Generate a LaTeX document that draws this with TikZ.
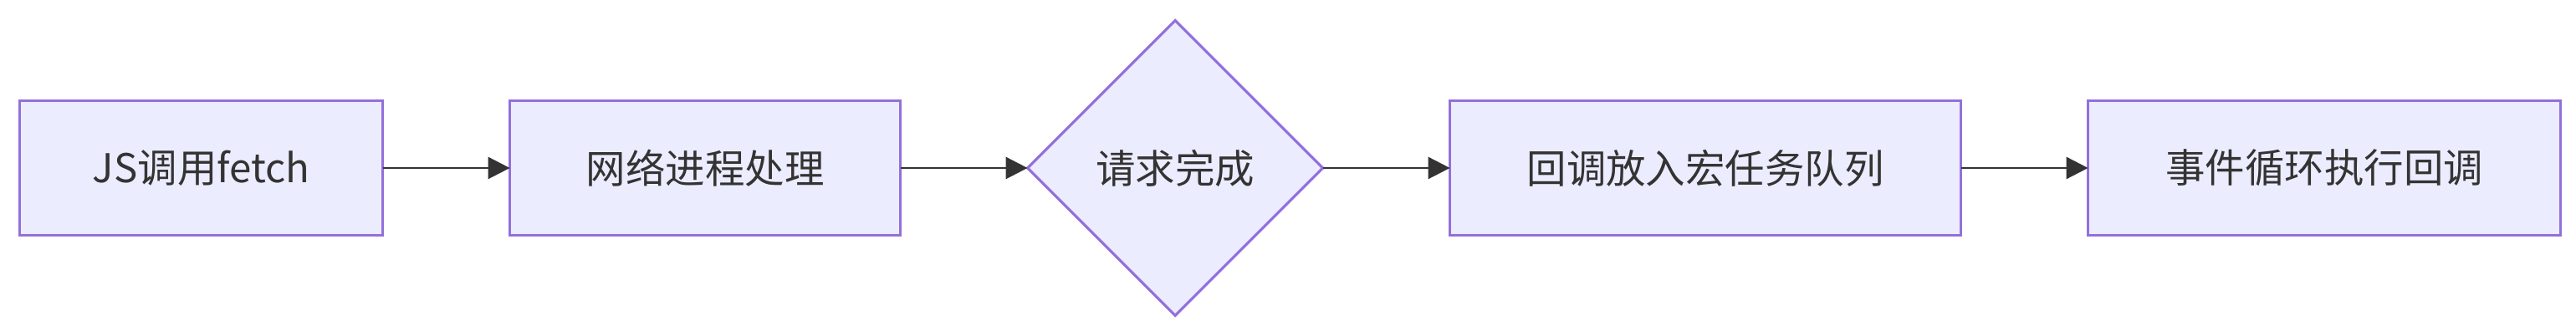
\documentclass[tikz,border=0pt]{standalone}
\usepackage{fontspec}
\usetikzlibrary{arrows.meta,positioning,shapes.geometric}
\newfontfamily\cjk{Noto Sans CJK SC}
\definecolor{boxfill}{RGB}{236,236,255}
\definecolor{boxline}{RGB}{147,112,219}
\definecolor{inkgray}{RGB}{51,51,51}
\begin{document}
\begin{tikzpicture}[
    stepbox/.style={draw=boxline,fill=boxfill,line width=0.9pt,minimum height=1.61cm,
                    inner sep=0pt,outer sep=0pt,text=inkgray,font=\cjk\fontsize{13.5}{16}\selectfont},
    checkbox/.style={stepbox,diamond,aspect=1,minimum width=3.53cm,minimum height=3.53cm},
    flow/.style={-{Triangle[length=0.26cm,width=0.26cm]},line width=0.8pt,inkgray},
    node distance=1.52cm]
  \useasboundingbox (0,0) rectangle (30.8,4.02);
  \node[stepbox,minimum width=4.34cm,anchor=west] (call) at (0.236,2.01) {JS调用fetch};
  \node[stepbox,minimum width=4.67cm,right=of call] (net) {网络进程处理};
  \node[checkbox,right=of net] (done) {请求完成};
  \node[stepbox,minimum width=6.11cm,right=of done] (queue) {回调放入宏任务队列};
  \node[stepbox,minimum width=5.65cm,right=of queue] (loop) {事件循环执行回调};
  % straight connectors, left to right
  \draw[flow] (call) -- (net);
  \draw[flow] (net) -- (done);
  \draw[flow] (done) -- (queue);
  \draw[flow] (queue) -- (loop);
\end{tikzpicture}
\end{document}
